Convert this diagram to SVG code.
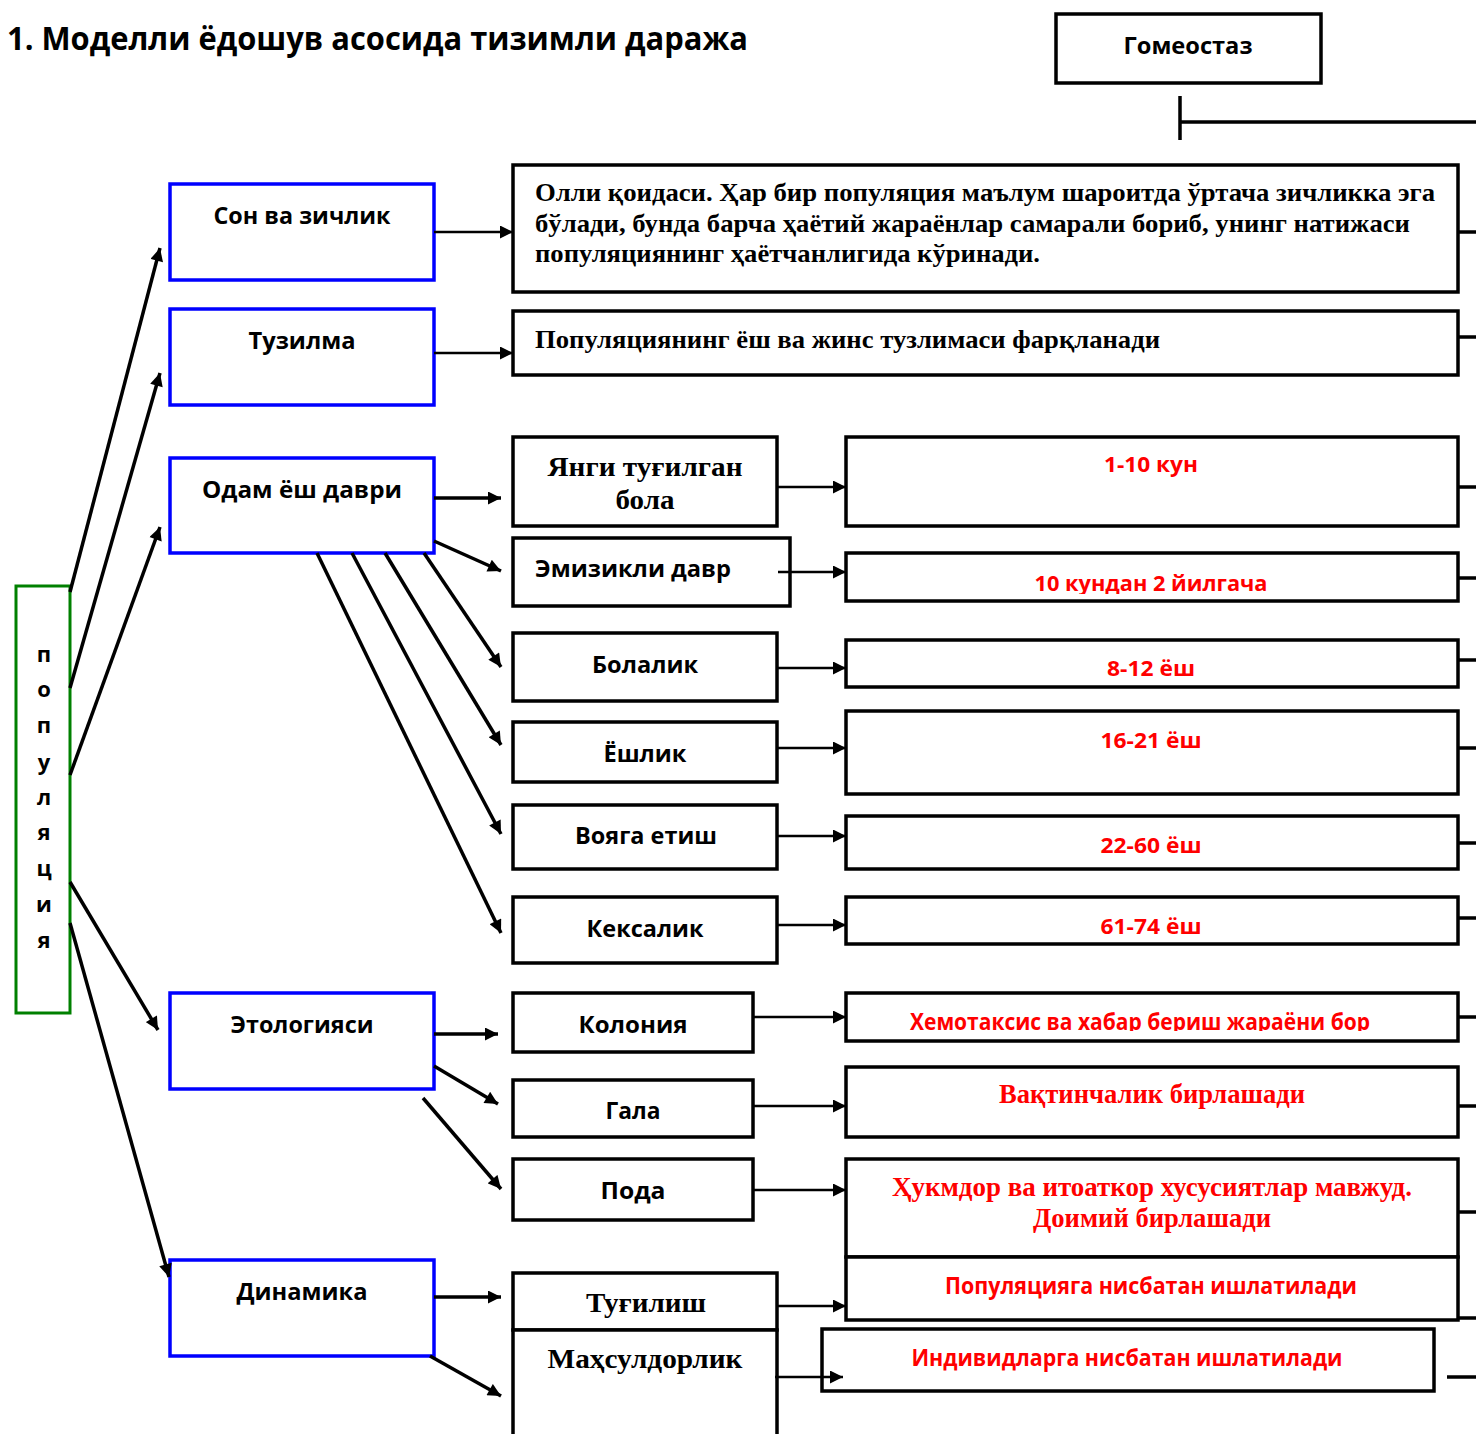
<svg xmlns="http://www.w3.org/2000/svg" width="1476" height="1434" viewBox="0 0 1476 1434">
<style>
.bx{fill:#fff;stroke:#000;stroke-width:3.5}
.bb{fill:#fff;stroke:#0000ff;stroke-width:3.5}
.bg{fill:#fff;stroke:#008000;stroke-width:3}
.s{font-family:"Open Sans","Liberation Sans",Arial,sans-serif;font-weight:bold;fill:#000}
.r{font-family:"Liberation Serif","Times New Roman",serif;font-weight:bold;fill:#000}
.red{fill:#ff0000}
.c{text-anchor:middle}
.ln{stroke:#000;stroke-width:2.5;fill:none}
.lt{stroke:#000;stroke-width:3.5;fill:none}
.a{marker-end:url(#ah)}
</style>
<defs>
<marker id="ah" viewBox="0 0 10 10" refX="10" refY="5" markerWidth="14" markerHeight="13" markerUnits="userSpaceOnUse" orient="auto"><path d="M0,0 L10,5 L0,10 Z" fill="#000"/></marker>
<clipPath id="c1"><rect x="846" y="553" width="612" height="41"/></clipPath>
<clipPath id="c2"><rect x="846" y="993" width="612" height="38"/></clipPath>
</defs>
<rect width="1476" height="1434" fill="#fff"/>

<g id="title"><text class="s" x="7" y="50" font-size="32" textLength="741" lengthAdjust="spacingAndGlyphs">1. Моделли ёдошув асосида тизимли даража</text></g>

<g id="homeostasis"><rect class="bx" x="1056" y="14" width="265" height="69"/><text class="s c" x="1188" y="54" font-size="23" textLength="129" lengthAdjust="spacingAndGlyphs">Гомеостаз</text></g>

<g id="population"><rect class="bg" x="16" y="586" width="54" height="427"/>
<text class="s c" x="44" font-size="22"><tspan x="44" y="662">п</tspan><tspan x="44" y="697">о</tspan><tspan x="44" y="733">п</tspan><tspan x="44" y="770">у</tspan><tspan x="44" y="805">л</tspan><tspan x="44" y="840">я</tspan><tspan x="44" y="876">ц</tspan><tspan x="44" y="912">и</tspan><tspan x="44" y="948">я</tspan></text></g>

<g id="n-son"><rect class="bb" x="170" y="184" width="264" height="96"/><text class="s c" x="302" y="224" font-size="23" textLength="177" lengthAdjust="spacingAndGlyphs">Сон ва зичлик</text></g>
<g id="n-tuzilma"><rect class="bb" x="170" y="309" width="264" height="96"/><text class="s c" x="302" y="349" font-size="23" textLength="107" lengthAdjust="spacingAndGlyphs">Тузилма</text></g>
<g id="n-odam"><rect class="bb" x="170" y="458" width="264" height="95"/><text class="s c" x="302" y="498" font-size="23" textLength="200" lengthAdjust="spacingAndGlyphs">Одам ёш даври</text></g>
<g id="n-etologiya"><rect class="bb" x="170" y="993" width="264" height="96"/><text class="s c" x="302" y="1033" font-size="23" textLength="143" lengthAdjust="spacingAndGlyphs">Этологияси</text></g>
<g id="n-dinamika"><rect class="bb" x="170" y="1260" width="264" height="96"/><text class="s c" x="302" y="1300" font-size="23" textLength="131" lengthAdjust="spacingAndGlyphs">Динамика</text></g>

<g id="n-olli"><rect class="bx" x="513" y="165" width="945" height="127"/>
<text class="r" font-size="26"><tspan x="535" y="201" textLength="900" lengthAdjust="spacingAndGlyphs">Олли қоидаси. Ҳар бир популяция маълум шароитда ўртача зичликка эга</tspan><tspan x="535" y="232" textLength="875" lengthAdjust="spacingAndGlyphs">бўлади, бунда барча ҳаётий жараёнлар самарали бориб, унинг натижаси</tspan><tspan x="535" y="262" textLength="505" lengthAdjust="spacingAndGlyphs">популяциянинг ҳаётчанлигида кўринади.</tspan></text></g>
<g id="n-jins"><rect class="bx" x="513" y="311" width="945" height="64"/><text class="r" x="535" y="348" font-size="26" textLength="625" lengthAdjust="spacingAndGlyphs">Популяциянинг ёш ва жинс тузлимаси фарқланади</text></g>

<g id="n-yangi"><rect class="bx" x="513" y="437" width="264" height="89"/><text class="r c" font-size="27"><tspan x="645" y="476" textLength="195" lengthAdjust="spacingAndGlyphs">Янги туғилган</tspan><tspan x="645" y="509" textLength="59" lengthAdjust="spacingAndGlyphs">бола</tspan></text></g>
<g id="n-emizikli"><rect class="bx" x="513" y="538" width="277" height="68"/><text class="s" x="535" y="577" font-size="23" textLength="196" lengthAdjust="spacingAndGlyphs">Эмизикли давр</text></g>
<g id="n-bolalik"><rect class="bx" x="513" y="633" width="264" height="68"/><text class="s c" x="645" y="673" font-size="23" textLength="106" lengthAdjust="spacingAndGlyphs">Болалик</text></g>
<g id="n-yoshlik"><rect class="bx" x="513" y="722" width="264" height="60"/><text class="s c" x="645" y="762" font-size="23" textLength="83" lengthAdjust="spacingAndGlyphs">Ёшлик</text></g>
<g id="n-voyaga"><rect class="bx" x="513" y="805" width="264" height="64"/><text class="s c" x="646" y="844" font-size="23" textLength="142" lengthAdjust="spacingAndGlyphs">Вояга етиш</text></g>
<g id="n-keksalik"><rect class="bx" x="513" y="897" width="264" height="66"/><text class="s c" x="645" y="937" font-size="23" textLength="117" lengthAdjust="spacingAndGlyphs">Кексалик</text></g>

<g id="n-koloniya"><rect class="bx" x="513" y="993" width="240" height="59"/><text class="s c" x="633" y="1033" font-size="23" textLength="109" lengthAdjust="spacingAndGlyphs">Колония</text></g>
<g id="n-gala"><rect class="bx" x="513" y="1080" width="240" height="57"/><text class="s c" x="633" y="1119" font-size="23" textLength="55" lengthAdjust="spacingAndGlyphs">Гала</text></g>
<g id="n-poda"><rect class="bx" x="513" y="1159" width="240" height="61"/><text class="s c" x="633" y="1199" font-size="23" textLength="65" lengthAdjust="spacingAndGlyphs">Пода</text></g>
<g id="n-tugilish"><rect class="bx" x="513" y="1273" width="264" height="57"/><text class="r c" x="646" y="1312" font-size="27" textLength="120" lengthAdjust="spacingAndGlyphs">Туғилиш</text></g>
<g id="n-mahsul"><rect class="bx" x="513" y="1330" width="264" height="110"/><text class="r c" x="645" y="1368" font-size="27" textLength="195" lengthAdjust="spacingAndGlyphs">Маҳсулдорлик</text></g>

<g id="r-1"><rect class="bx" x="846" y="437" width="612" height="89"/><text class="s c red" x="1151" y="472" font-size="22" textLength="94" lengthAdjust="spacingAndGlyphs">1-10 кун</text></g>
<g id="r-2"><rect class="bx" x="846" y="553" width="612" height="48"/><text class="s c red" x="1151" y="591" font-size="22" textLength="233" lengthAdjust="spacingAndGlyphs" clip-path="url(#c1)">10 кундан 2 йилгача</text></g>
<g id="r-3"><rect class="bx" x="846" y="640" width="612" height="47"/><text class="s c red" x="1151" y="676" font-size="22" textLength="88" lengthAdjust="spacingAndGlyphs">8-12 ёш</text></g>
<g id="r-4"><rect class="bx" x="846" y="711" width="612" height="83"/><text class="s c red" x="1151" y="748" font-size="22" textLength="101" lengthAdjust="spacingAndGlyphs">16-21 ёш</text></g>
<g id="r-5"><rect class="bx" x="846" y="816" width="612" height="53"/><text class="s c red" x="1151" y="853" font-size="22" textLength="101" lengthAdjust="spacingAndGlyphs">22-60 ёш</text></g>
<g id="r-6"><rect class="bx" x="846" y="897" width="612" height="47"/><text class="s c red" x="1151" y="934" font-size="22" textLength="101" lengthAdjust="spacingAndGlyphs">61-74 ёш</text></g>
<g id="r-7"><rect class="bx" x="846" y="993" width="612" height="48"/><text class="s c red" x="1140" y="1030" font-size="23" textLength="460" lengthAdjust="spacingAndGlyphs" clip-path="url(#c2)">Хемотаксис ва хабар бериш жараёни бор</text></g>
<g id="r-8"><rect class="bx" x="846" y="1067" width="612" height="70"/><text class="r c red" x="1152" y="1103" font-size="27" textLength="306" lengthAdjust="spacingAndGlyphs">Вақтинчалик бирлашади</text></g>
<g id="r-9"><rect class="bx" x="846" y="1159" width="612" height="98"/><text class="r c red" font-size="27"><tspan x="1152" y="1196" textLength="520" lengthAdjust="spacingAndGlyphs">Ҳукмдор ва итоаткор хусусиятлар мавжуд.</tspan><tspan x="1152" y="1227" textLength="238" lengthAdjust="spacingAndGlyphs">Доимий бирлашади</tspan></text></g>
<g id="r-10"><rect class="bx" x="846" y="1257" width="612" height="63"/><text class="s c red" x="1151" y="1294" font-size="23" textLength="412" lengthAdjust="spacingAndGlyphs">Популяцияга нисбатан ишлатилади</text></g>
<g id="r-11"><rect class="bx" x="822" y="1329" width="612" height="62"/><text class="s c red" x="1127" y="1366" font-size="23" textLength="431" lengthAdjust="spacingAndGlyphs">Индивидларга нисбатан ишлатилади</text></g>

<g id="connectors">
<path class="lt" d="M1180,96 V140 M1180,122 H1476"/>
<path class="lt a" d="M70,592 L160,248"/>
<path class="lt a" d="M70,688 L160,373"/>
<path class="lt a" d="M70,775 L160,527"/>
<path class="lt a" d="M70,882 L158,1030"/>
<path class="lt a" d="M70,923 L169,1277"/>
<path class="ln a" d="M434,232 H513"/>
<path class="ln a" d="M434,353 H513"/>
<path class="lt a" d="M434,498 H501"/>
<path class="lt a" d="M434,541 L501,571"/>
<path class="lt a" d="M424,553 L501,667"/>
<path class="lt a" d="M385,553 L501,745"/>
<path class="lt a" d="M352,553 L501,834"/>
<path class="lt a" d="M317,553 L501,933"/>
<path class="ln a" d="M777,487 H846"/>
<path class="ln a" d="M778,572 H846"/>
<path class="ln a" d="M777,668 H846"/>
<path class="ln a" d="M777,748 H846"/>
<path class="ln a" d="M777,836 H846"/>
<path class="ln a" d="M777,925 H846"/>
<path class="lt a" d="M434,1034 H498"/>
<path class="lt a" d="M434,1066 L498,1104"/>
<path class="lt a" d="M423,1098 L501,1189"/>
<path class="lt a" d="M434,1297 H501"/>
<path class="lt a" d="M430,1356 L501,1396"/>
<path class="ln a" d="M753,1017 H846"/>
<path class="ln a" d="M753,1106 H846"/>
<path class="ln a" d="M753,1190 H846"/>
<path class="ln a" d="M777,1306 H846"/>
<path class="ln a" d="M775,1377 H843"/>
<path class="lt" d="M1458,232 H1476 M1458,337 H1476 M1458,487 H1476 M1458,578 H1476 M1458,660 H1476 M1458,748 H1476 M1458,843 H1476 M1458,918 H1476 M1458,1017 H1476 M1458,1106 H1476 M1458,1212 H1476 M1458,1318 H1476 M1447,1377 H1476"/>
</g>
</svg>
